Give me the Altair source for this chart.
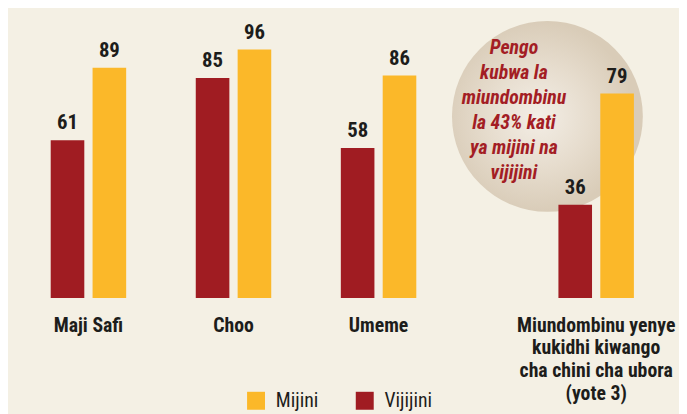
import altair as alt
import pandas as pd

# ---- data ----
categories = ["Maji Safi", "Choo", "Umeme",
              "Miundombinu yenye\nkukidhi kiwango\ncha chini cha ubora\n(yote 3)"]
vijijini = [61, 85, 58, 36]
mijini = [89, 96, 86, 79]
series = ["Mijini", "Vijijini"]
series_colors = ["#fbb829", "#a01c22"]
note_lines = ["Pengo", "kubwa la", "miundombinu", "la 43% kati", "ya mijini na", "vijijini"]

FONT = "Liberation Sans Narrow, Arial Narrow, Roboto Condensed, Roboto, sans-serif"
INK = "#1d1d1b"

rows = []
for i, c in enumerate(categories):
    rows.append({"cat": c, "idx": i, "series": "Vijijini", "value": vijijini[i]})
    rows.append({"cat": c, "idx": i, "series": "Mijini", "value": mijini[i]})
df = pd.DataFrame(rows)
cat_df = pd.DataFrame({"cat": categories, "idx": list(range(len(categories)))})

# layout: last group sits 1.5 group-steps after the previous one
GROUP = "datum.idx + (datum.idx >= 3 ? 0.5 : 0)"

xscale = alt.Scale(domain=[-0.5, 4.037], nice=False, zero=False)
yscale = alt.Scale(domain=[0, 110], nice=False)

base = alt.Chart(df).transform_calculate(
    slot=GROUP + " + (datum.series == 'Vijijini' ? -0.1443 : 0.1443)"
)

bars = base.mark_bar(size=34).encode(
    x=alt.X("slot:Q", scale=xscale, title=None,
            axis=alt.Axis(values=[0], labels=False, title=None, grid=False,
                          ticks=False, domainColor="#231f20", domainWidth=2.6)),
    y=alt.Y("value:Q", scale=yscale, axis=None, title=None),
    color=alt.Color("series:N", scale=alt.Scale(domain=series, range=series_colors),
                    legend=alt.Legend(title=None, orient="none", legendX=238, legendY=382,
                                      direction="horizontal", symbolType="square",
                                      symbolSize=330, symbolStrokeWidth=0,
                                      labelFont=FONT, labelFontSize=20, labelColor=INK,
                                      labelOffset=10, columnPadding=36)),
)

values = base.mark_text(font=FONT, fontSize=21, fontWeight="bold", color=INK,
                        baseline="alphabetic", dy=-11).encode(
    x=alt.X("slot:Q", scale=xscale, axis=None, title=None),
    y=alt.Y("value:Q", scale=yscale, axis=None, title=None),
    text="value:Q",
)

cat_labels = alt.Chart(cat_df).transform_calculate(
    slot=GROUP
).mark_text(font=FONT, fontSize=20, fontWeight="bold", color=INK, align="center",
            baseline="alphabetic", lineBreak="\n", lineHeight=23, dy=34).encode(
    x=alt.X("slot:Q", scale=xscale, axis=None, title=None),
    y=alt.datum(0),
    text="cat:N",
)

circle_df = pd.DataFrame({"cx": [3.164], "cy": [70.2]})
circle = alt.Chart(circle_df).mark_point(
    shape="circle", size=37300, filled=True, opacity=1, strokeWidth=0,
    fill=alt.RadialGradient(gradient="radial",
                            stops=[alt.GradientStop(offset=0, color="#f3eee6"),
                                   alt.GradientStop(offset=0.55, color="#e6dccd"),
                                   alt.GradientStop(offset=1, color="#d9ccb8")],
                            x1=0.45, y1=0.5, r1=0, x2=0.45, y2=0.5, r2=0.5),
).encode(
    x=alt.X("cx:Q", scale=xscale, axis=None, title=None),
    y=alt.Y("cy:Q", scale=yscale, axis=None, title=None),
)

note_df = pd.DataFrame({"nx": [2.933], "ny": [94.3], "t": ["\n".join(note_lines)]})
note = alt.Chart(note_df).mark_text(
    font=FONT, fontSize=20, fontWeight="bold", fontStyle="italic", color="#a31d24",
    align="center", baseline="alphabetic", lineBreak="\n", lineHeight=25.2,
).encode(
    x=alt.X("nx:Q", scale=xscale, axis=None, title=None),
    y=alt.Y("ny:Q", scale=yscale, axis=None, title=None),
    text="t:N",
)

chart = alt.layer(circle, note, bars, values, cat_labels).properties(
    width=676, height=288,
    background="#f4f0e4",
    padding={"left": 3, "top": 3, "right": 0, "bottom": 120},
    autosize=alt.AutoSizeParams(type="none"),
).configure_view(stroke=None)

chart.save("out.html", embed_options={"renderer": "svg", "actions": False})
